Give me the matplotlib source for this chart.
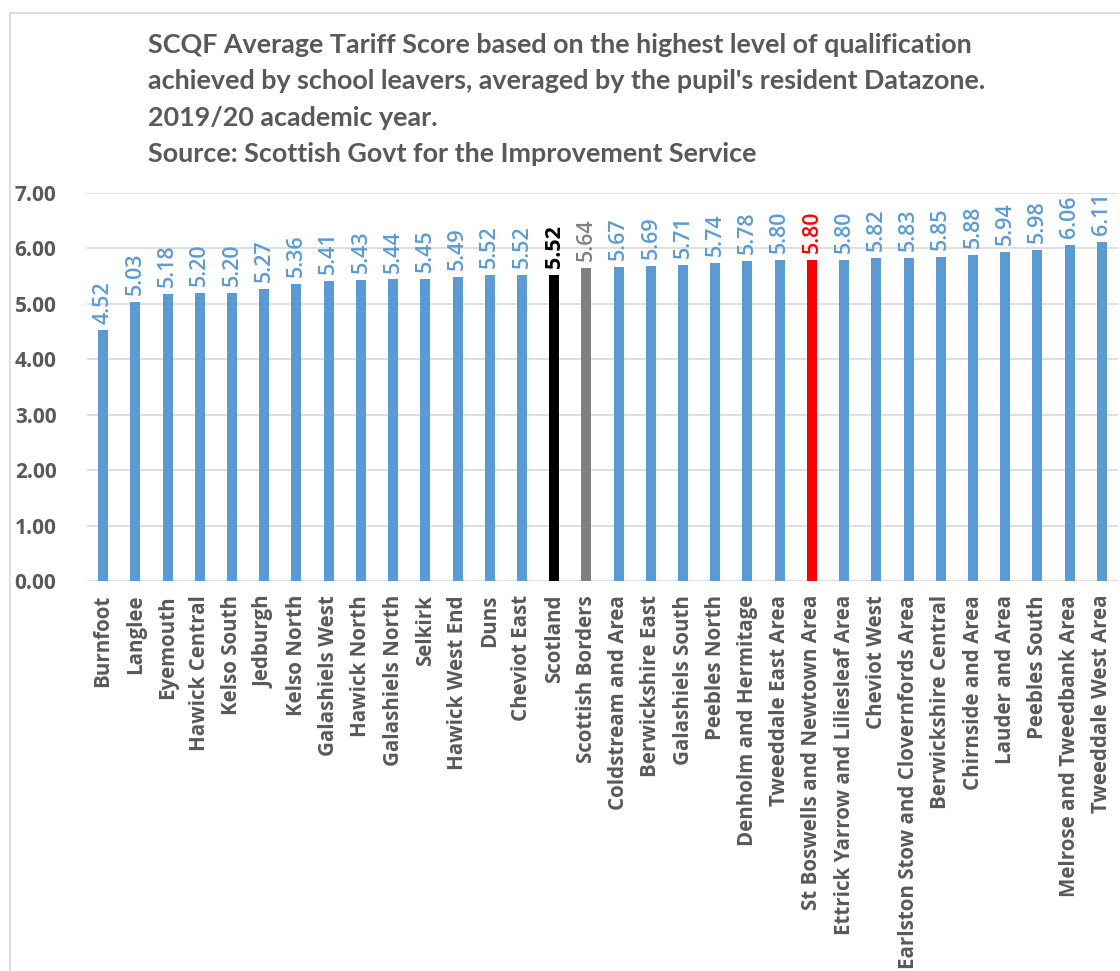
import matplotlib.pyplot as plt
from matplotlib.lines import Line2D

areas = ["Burnfoot", "Langlee", "Eyemouth", "Hawick Central", "Kelso South", "Jedburgh",
         "Kelso North", "Galashiels West", "Hawick North", "Galashiels North", "Selkirk",
         "Hawick West End", "Duns", "Cheviot East", "Scotland", "Scottish Borders",
         "Coldstream and Area", "Berwickshire East", "Galashiels South", "Peebles North",
         "Denholm and Hermitage", "Tweeddale East Area", "St Boswells and Newtown Area",
         "Ettrick Yarrow and Liliesleaf Area", "Cheviot West",
         "Earlston Stow and Clovernfords Area", "Berwickshire Central", "Chirnside and Area",
         "Lauder and Area", "Peebles South", "Melrose and Tweedbank Area", "Tweeddale West Area"]
scores = [4.52, 5.03, 5.18, 5.20, 5.20, 5.27, 5.36, 5.41, 5.43, 5.44, 5.45, 5.49, 5.52, 5.52,
          5.52, 5.64, 5.67, 5.69, 5.71, 5.74, 5.78, 5.80, 5.80, 5.80, 5.82, 5.83, 5.85, 5.88,
          5.94, 5.98, 6.06, 6.11]
highlight = {"Scotland": "#000000", "Scottish Borders": "#808080",
             "St Boswells and Newtown Area": "#FF0000"}
y_ticks = [0, 1, 2, 3, 4, 5, 6, 7]

title = ("SCQF Average Tariff Score based on the highest level of qualification\n"
         "achieved by school leavers, averaged by the pupil's resident Datazone.\n"
         "2019/20 academic year.\n"
         "Source: Scottish Govt for the Improvement Service")

plt.rcParams['font.family'] = ['Open Sans', 'DejaVu Sans']
BLUE = "#5B9BD5"
GREY_TXT = "#595959"

fig = plt.figure(figsize=(11.2, 9.71), dpi=100)
ax = fig.add_axes([87 / 1120, 1 - 581 / 971, 1031 / 1120, 388 / 971])

colors = [highlight.get(a, BLUE) for a in areas]
x = list(range(len(areas)))
ax.bar(x, scores, width=0.31, color=colors, zorder=3)

for xi, v, c, a in zip(x, scores, colors, areas):
    ax.annotate(f"{v:.2f}", (xi, v), xytext=(0, 5), textcoords="offset points",
                rotation=90, ha="center", va="bottom", color=c, fontsize=15.5,
                fontweight="bold" if a == "Scotland" else "semibold")

ax.set_xlim(-0.5, len(areas) - 0.5)
ax.set_ylim(0, 7)
ax.set_yticks(y_ticks)
ax.set_yticklabels([f"{t:.2f}" for t in y_ticks], fontsize=15, fontweight="bold",
                   color=GREY_TXT)
ax.set_xticks(x)
ax.set_xticklabels(areas, rotation=90, fontsize=14.8, fontweight="bold", color=GREY_TXT)
ax.tick_params(length=0, pad=10)
ax.tick_params(axis="y", pad=22)
ax.grid(axis="y", color="#D9D9D9", linewidth=1.2, zorder=0)
for s in ax.spines.values():
    s.set_visible(False)

fig.text(148 / 1120, 1 - 33 / 971, title, ha="left", va="top", fontsize=19.4,
         fontweight="bold", color=GREY_TXT, linespacing=1.62,
         family=['Lato', 'Open Sans'])

# chart border (top and left visible)
fig.add_artist(Line2D([10 / 1120, 1], [1 - 13 / 971] * 2, color="#D9D9D9", lw=1.2))
fig.add_artist(Line2D([10 / 1120] * 2, [0, 1 - 13 / 971], color="#D9D9D9", lw=1.2))

fig.savefig("out.png", dpi=100)
